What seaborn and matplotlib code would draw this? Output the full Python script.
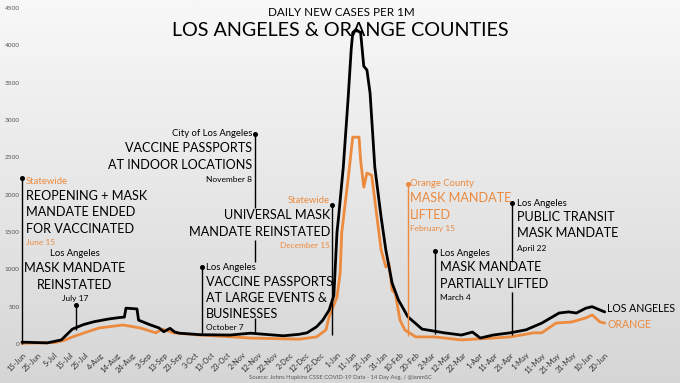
import numpy as np
import pandas as pd
import matplotlib
matplotlib.use("Agg")
import matplotlib.pyplot as plt
import matplotlib.dates as mdates
from matplotlib.colors import LinearSegmentedColormap
import seaborn as sns

# ---------------- data ----------------
la_dates = ["2021-06-15", "2021-07-01", "2021-07-10", "2021-07-17", "2021-07-24", "2021-07-31",
            "2021-08-09", "2021-08-16", "2021-08-19", "2021-08-20", "2021-08-27", "2021-08-28",
            "2021-09-04", "2021-09-10", "2021-09-13", "2021-09-17", "2021-09-20", "2021-09-23",
            "2021-10-06", "2021-10-25", "2021-11-07", "2021-11-28", "2021-12-08", "2021-12-13",
            "2021-12-19", "2021-12-23", "2021-12-27", "2021-12-30", "2022-01-01", "2022-01-02",
            "2022-01-05", "2022-01-08", "2022-01-10", "2022-01-11", "2022-01-13", "2022-01-16",
            "2022-01-18", "2022-01-20", "2022-01-22", "2022-01-25", "2022-01-29", "2022-02-01",
            "2022-02-05", "2022-02-09", "2022-02-15", "2022-02-24", "2022-03-10", "2022-03-21",
            "2022-03-28", "2022-04-02", "2022-04-10", "2022-04-21", "2022-05-01", "2022-05-11",
            "2022-05-22", "2022-05-28", "2022-06-02", "2022-06-08", "2022-06-12", "2022-06-17",
            "2022-06-20"]
la_values = [25, 15, 55, 200, 260, 300,
             335, 355, 360, 480, 470, 320,
             260, 215, 165, 210, 160, 145,
             125, 120, 145, 110, 130, 150,
             230, 320, 455, 650, 1500, 1700,
             2370, 3270, 3940, 4170, 4210, 4170,
             3720, 3670, 3360, 2370, 1700, 1260,
             815, 590, 365, 200, 150, 120,
             160, 80, 120, 150, 190, 280,
             415, 430, 415, 480, 500, 455,
             430]

oc_dates = ["2021-06-15", "2021-07-06", "2021-07-12", "2021-07-17", "2021-07-26", "2021-08-03",
            "2021-08-18", "2021-08-29", "2021-09-08", "2021-09-12", "2021-09-19", "2021-10-06",
            "2021-10-27", "2021-11-07", "2021-12-08", "2021-12-19", "2021-12-25", "2021-12-27",
            "2022-01-01", "2022-01-03", "2022-01-04", "2022-01-08", "2022-01-11", "2022-01-15",
            "2022-01-16", "2022-01-18", "2022-01-20", "2022-01-23", "2022-01-25", "2022-01-29",
            "2022-02-01", "2022-02-03", "2022-02-05", "2022-02-07", "2022-02-10", "2022-02-13",
            "2022-02-20", "2022-03-04", "2022-03-21", "2022-04-10", "2022-04-21", "2022-05-06",
            "2022-05-11", "2022-05-20", "2022-05-30", "2022-06-08", "2022-06-12", "2022-06-17",
            "2022-06-20"]
oc_values = [10, 20, 50, 95, 160, 215,
             255, 215, 150, 200, 150, 120,
             95, 80, 65, 95, 190, 365,
             630, 950, 1490, 2200, 2770, 2770,
             2460, 2100, 2290, 2260, 1930, 1260,
             1030, 1080, 720, 680, 320, 190,
             95, 95, 55, 80, 95, 150,
             150, 280, 295, 350, 390, 295,
             280]

tick_labels = ["15-Jun", "25-Jun", "5-Jul", "15-Jul", "25-Jul", "4-Aug", "14-Aug", "24-Aug",
               "3-Sep", "13-Sep", "23-Sep", "3-Oct", "13-Oct", "23-Oct", "2-Nov", "12-Nov",
               "22-Nov", "2-Dec", "12-Dec", "22-Dec", "1-Jan", "11-Jan", "21-Jan", "31-Jan",
               "10-Feb", "20-Feb", "2-Mar", "12-Mar", "22-Mar", "1-Apr", "11-Apr", "21-Apr",
               "1-May", "11-May", "21-May", "31-May", "10-Jun", "20-Jun"]
y_ticks = [0, 500, 1000, 1500, 2000, 2500, 3000, 3500, 4000, 4500]

ORANGE = "#ec8a3e"
BLACK = "#000000"

sns.set_style("white")
plt.rcParams["font.family"] = ["Lato", "DejaVu Sans"]

W, H = 680, 383
fig = plt.figure(figsize=(W / 100, H / 100), dpi=100)

# background gradient
bg = fig.add_axes([0, 0, 1, 1], zorder=0)
grad = np.linspace(0, 1, 256).reshape(-1, 1)
cmap = LinearSegmentedColormap.from_list("bg", ["#f8f8f8", "#d6d6d6"])
bg.imshow(grad, aspect="auto", cmap=cmap, extent=[0, 1, 0, 1], origin="upper")
bg.set_axis_off()

ax = fig.add_axes([0, 36 / H, 1, 347 / H], zorder=1)
ax.set_facecolor("none")

la = pd.DataFrame({"date": pd.to_datetime(la_dates), "v": la_values})
oc = pd.DataFrame({"date": pd.to_datetime(oc_dates), "v": oc_values})
sns.lineplot(data=oc, x="date", y="v", ax=ax, color=ORANGE, lw=2.0, zorder=3)
sns.lineplot(data=la, x="date", y="v", ax=ax, color=BLACK, lw=2.0, zorder=4)

start = mdates.date2num(pd.Timestamp("2021-06-15"))
px_per_day = 1.575
ax.set_xlim(start - 22 / px_per_day, start + (W - 22) / px_per_day)
ax.set_ylim(-40, 4607)

tick_pos = [start + 10 * i for i in range(len(tick_labels))]
ax.set_xticks(tick_pos)
ax.set_xticklabels(tick_labels, rotation=45, ha="right", va="top",
                   rotation_mode="anchor", fontsize=5.4, color="#333333")
ax.tick_params(axis="x", length=0, pad=3)
ax.set_yticks(y_ticks)
ax.set_yticklabels([str(v) for v in y_ticks], fontsize=4.6, color="#555555")
ax.tick_params(axis="y", length=0, pad=-14)
ax.set_xlabel("")
ax.set_ylabel("")
for s in ax.spines.values():
    s.set_visible(False)


def d(s):
    return mdates.date2num(pd.Timestamp(s))


def yv(py):
    return (344 - py) * 4500 / 336


def vline(date, segs, color=BLACK):
    x = d(date)
    for a, b in segs:
        ax.plot([x, x], [yv(a), yv(b)], color=color, lw=1.0, zorder=5, solid_capstyle="butt")
    ax.plot([x], [yv(segs[0][0])], "o", color=color, ms=2.6, zorder=6)


vline("2021-06-15", [(178, 344)])
vline("2021-07-19", [(305, 330)])
vline("2021-10-07", [(267, 333)])
vline("2021-11-10", [(134, 208), (240, 262), (318, 333)])
vline("2021-12-29", [(205, 335)])
vline("2022-02-15", [(184, 336)], ORANGE)
vline("2022-03-04", [(251, 334)])
vline("2022-04-22", [(203, 262), (292, 335)])


def T(x, y, s, size, color=BLACK, ha="left"):
    fig.text(x / W, 1 - y / H, s, fontsize=size, color=color, ha=ha, va="center", zorder=10)


BIG = 9.1
SM = 6.8
DT = 6.0

T(341, 13, "DAILY NEW CASES PER 1M", 8.4, ha="center")
T(340, 31, "LOS ANGELES & ORANGE COUNTIES", 14.2, ha="center")

# June 15
T(26, 182, "Statewide", SM, ORANGE)
T(26, 196, "REOPENING + MASK", BIG)
T(26, 212, "MANDATE ENDED", BIG)
T(26, 229, "FOR VACCINATED", BIG)
T(26, 242, "June 15", DT, ORANGE)

# July 17
T(75, 254, "Los Angeles", SM, ha="center")
T(75, 268, "MASK MANDATE", BIG, ha="center")
T(75, 285, "REINSTATED", BIG, ha="center")
T(75, 298, "July 17", DT, ha="center")

# October 7
T(206, 267, "Los Angeles", SM)
T(206, 282, "VACCINE PASSPORTS", BIG)
T(206, 298, "AT LARGE EVENTS &", BIG)
T(206, 314, "BUSINESSES", BIG)
T(206, 328, "October 7", DT)

# November 8
T(252, 134, "City of Los Angeles", SM, ha="right")
T(252, 148, "VACCINE PASSPORTS", BIG, ha="right")
T(252, 165, "AT INDOOR LOCATIONS", BIG, ha="right")
T(252, 179, "November 8", DT, ha="right")

# December 15
T(330, 201, "Statewide", SM, ORANGE, ha="right")
T(330, 215, "UNIVERSAL MASK", BIG, ha="right")
T(330, 232, "MANDATE REINSTATED", BIG, ha="right")
T(330, 245, "December 15", DT, ORANGE, ha="right")

# February 15
T(410, 184, "Orange County", SM, ORANGE)
T(410, 198, "MASK MANDATE", BIG, ORANGE)
T(410, 215, "LIFTED", BIG, ORANGE)
T(410, 229, "February 15", DT, ORANGE)

# March 4
T(440, 253, "Los Angeles", SM)
T(440, 267, "MASK MANDATE", BIG)
T(440, 284, "PARTIALLY LIFTED", BIG)
T(440, 297, "March 4", DT)

# April 22
T(517, 204, "Los Angeles", SM)
T(517, 217, "PUBLIC TRANSIT", BIG)
T(517, 233, "MASK MANDATE", BIG)
T(517, 248, "April 22", DT)

# end labels
T(607, 309, "LOS ANGELES", 7.6)
T(607, 324, "ORANGE", 7.6, ORANGE)

T(340, 378, "Source: Johns Hopkins CSSE COVID-19 Data - 14 Day Avg. / @ianmSC", 4.2, "#555555", ha="center")

fig.savefig("out.png", dpi=100)
